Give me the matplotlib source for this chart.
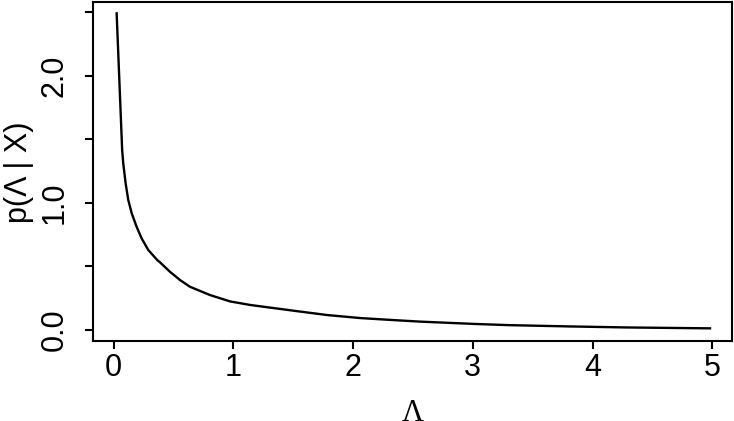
import matplotlib
matplotlib.use("Agg")
import matplotlib.pyplot as plt

# Values
lam = [0.026, 0.072, 0.081, 0.101, 0.123, 0.152, 0.193, 0.235, 0.290, 0.365,
       0.388, 0.471, 0.555, 0.638, 0.805, 0.972, 1.140, 1.308, 1.501, 1.780,
       2.058, 2.336, 2.559, 2.754, 3.033, 3.311, 3.812, 4.285, 4.981]
dens = [2.490, 1.415, 1.311, 1.153, 1.022, 0.917, 0.811, 0.720, 0.629, 0.550,
        0.532, 0.458, 0.393, 0.340, 0.275, 0.225, 0.197, 0.176, 0.152, 0.118,
        0.094, 0.078, 0.066, 0.058, 0.047, 0.038, 0.028, 0.020, 0.013]
xticks = [0, 1, 2, 3, 4, 5]
yticks = [0.0, 0.5, 1.0, 1.5, 2.0, 2.5]
ytick_labels = ["0.0", "", "1.0", "", "2.0", ""]

plt.rcParams['font.family'] = ['Liberation Sans', 'DejaVu Sans']

fig = plt.figure(figsize=(7.34, 4.21), dpi=100)
W, H = 734, 421
left, right, top, bottom = 92.7, 732.3, 2.0, 341.0
ax = fig.add_axes([left / W, 1 - bottom / H, (right - left) / W, (bottom - top) / H])

ax.plot(lam, dens, color='black', linewidth=1.7, solid_joinstyle='round')

ax.set_xlim(-0.174, 5.167)
ax.set_ylim(-0.0865, 2.579)

ax.set_xticks(xticks)
ax.set_xticklabels([str(t) for t in xticks])
ax.set_yticks(yticks)
ax.set_yticklabels(ytick_labels, rotation=90, va='center')

for s in ax.spines.values():
    s.set_linewidth(1.5)
ax.tick_params(axis='both', length=5.5, width=1.5, labelsize=22, color='black')
ax.tick_params(axis='x', pad=3)
ax.tick_params(axis='y', pad=11)

ax.set_ylabel('p(Λ | X)', fontsize=22)
ax.yaxis.set_label_coords(-0.091, 0.4985)
ax.set_xlabel('Λ', fontsize=22, family=['Liberation Serif', 'DejaVu Serif'])
ax.xaxis.set_label_coords(0.5008, -0.17)

fig.savefig('out.png', dpi=100)
